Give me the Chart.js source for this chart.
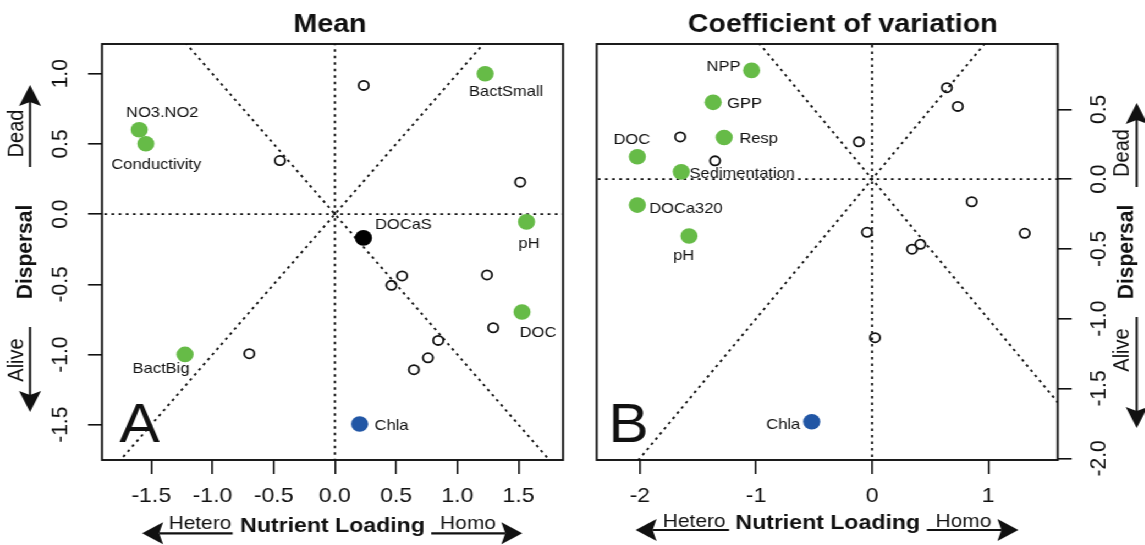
<!DOCTYPE html>
<html>
<head>
<meta charset="utf-8">
<title>Mean and coefficient of variation: nutrient loading vs dispersal</title>
<script src="https://cdn.jsdelivr.net/npm/chart.js@4.4.1/dist/chart.umd.min.js"></script>
<style>
  html, body { margin: 0; padding: 0; background: #fff; overflow: hidden; }
  #stage { position: absolute; left: 0; top: 0; width: 1041px; height: 545px;
           transform: scaleX(1.1); transform-origin: 0 0; }
  #stage canvas { position: absolute; top: 0; }
</style>
</head>
<body>
<div id="stage">
  <canvas id="meanChart" width="527" height="545" style="left:0px"></canvas>
  <canvas id="cvChart" width="514" height="545" style="left:527.2727px"></canvas>
</div>
<script>
// ---------- Mean panel ----------
const meanGreenNames = ["BactSmall", "NO3.NO2", "Conductivity", "pH", "DOC", "BactBig"];
const meanGreenX = [1.227, -1.598, -1.544, 1.565, 1.528, -1.224];
const meanGreenY = [1.000, 0.601, 0.501, -0.055, -0.697, -0.999];
const meanBlackNames = ["DOCaS"];
const meanBlackX = [0.233];
const meanBlackY = [-0.169];
const meanBlueNames = ["Chla"];
const meanBlueX = [0.202];
const meanBlueY = [-1.495];
const meanOpenX = [0.235, -0.449, 1.513, 0.549, 1.242, 0.462, 1.293, 0.844, 0.760, 0.645, -0.699];
const meanOpenY = [0.917, 0.382, 0.228, -0.440, -0.433, -0.507, -0.809, -0.899, -1.023, -1.108, -0.994];

// ---------- Coefficient of variation panel ----------
const cvGreenNames = ["NPP", "GPP", "Resp", "DOC", "Sedimentation", "DOCa320", "pH"];
const cvGreenX = [-1.038, -1.369, -1.274, -2.022, -1.644, -2.022, -1.577];
const cvGreenY = [0.779, 0.550, 0.298, 0.160, 0.052, -0.186, -0.407];
const cvBlueNames = ["Chla"];
const cvBlueX = [-0.520];
const cvBlueY = [-1.738];
const cvOpenX = [-1.653, -1.353, -0.114, 0.644, 0.738, 0.858, -0.044, 0.416, 0.344, 1.315, 0.025];
const cvOpenY = [0.302, 0.131, 0.267, 0.655, 0.521, -0.162, -0.381, -0.467, -0.502, -0.388, -1.136];

// ---------- axes ----------
const meanXTicks = [-1.5, -1.0, -0.5, 0, 0.5, 1.0, 1.5];
const meanXTickLabels = ["-1.5", "-1.0", "-0.5", "0.0", "0.5", "1.0", "1.5"];
const meanYTicks = [-1.5, -1.0, -0.5, 0, 0.5, 1.0];
const meanYTickLabels = ["-1.5", "-1.0", "-0.5", "0.0", "0.5", "1.0"];
const cvXTicks = [-2, -1, 0, 1];
const cvXTickLabels = ["-2", "-1", "0", "1"];
const cvYTicks = [-2.0, -1.5, -1.0, -0.5, 0, 0.5];
const cvYTickLabels = ["-2.0", "-1.5", "-1.0", "-0.5", "0.0", "0.5"];

const meanXRange = [-1.902, 1.863];
const meanYRange = [-1.751, 1.212];
const cvXRange = [-2.372, 1.599];
const cvYRange = [-2.012, 0.968];

// dotted guides through the origin (Infinity = vertical)
const guideSlopes = [0, Infinity, 1, -1];

// ---------- styling ----------
const SX = 1.1;                 // horizontal stretch applied to the stage
const FONT = '"Liberation Sans", Arial, Helvetica, sans-serif';
const INK = '#111';
const GREEN = '#66BB47';
const BLUE = '#2156A5';

// label placement: pixel offset of the label centre from its point
const meanLabelOffsets = {
  "BactSmall": [21, 18], "NO3.NO2": [23, -17], "Conductivity": [10.5, 21], "pH": [2.5, 22],
  "DOC": [16, 21], "BactBig": [-24, 14], "DOCaS": [40, -13], "Chla": [32, 1.5]
};
const cvLabelOffsets = {
  "NPP": [-28, -3.5], "GPP": [31.5, 1.3], "Resp": [34.5, 1.5], "DOC": [-5.5, -16.7],
  "Sedimentation": [61, 1.6], "DOCa320": [48.5, 3.7], "pH": [-5.3, 19.8], "Chla": [-28.5, 3.6]
};

// margin annotations, positions in page pixels
const decorSpecs = {
  meanChart: {
    offset: 0,
    title: { text: "Mean", x: 330, y: 32 },
    yTitle: { text: "Dispersal", x: 25.5, y: 252 },
    dead: { text: "Dead", x: 17.5, y: 133.5, arrow: [30, 167, 30, 85] },
    alive: { text: "Alive", x: 17.5, y: 360, arrow: [30, 327, 30, 412] },
    xTitle: { text: "Nutrient Loading", x: 332.5, y: 532 },
    hetero: { text: "Hetero", x: 200, y: 529, arrow: [232.6, 533.3, 142.1, 533.3] },
    homo: { text: "Homo", x: 468, y: 529, arrow: [431.2, 533.3, 522.3, 533.3] },
    letter: { text: "A", x: 119.3, y: 441.7 },
    labelOffsets: meanLabelOffsets
  },
  cvChart: {
    offset: 580,
    title: { text: "Coefficient of variation", x: 843, y: 32 },
    yTitle: { text: "Dispersal", x: 1127, y: 252 },
    dead: { text: "Dead", x: 1122.5, y: 153, arrow: [1137, 187, 1137, 103] },
    alive: { text: "Alive", x: 1122.5, y: 350, arrow: [1137, 317, 1137, 428] },
    xTitle: { text: "Nutrient Loading", x: 828, y: 529 },
    hetero: { text: "Hetero", x: 694.5, y: 527, arrow: [729.3, 530, 635.9, 530] },
    homo: { text: "Homo", x: 963.8, y: 527, arrow: [927.1, 530, 1018.7, 530] },
    letter: { text: "B", x: 608.5, y: 441.7 },
    labelOffsets: cvLabelOffsets
  }
};

function toPoints(xs, ys) { return xs.map((v, i) => ({ x: v, y: ys[i] })); }

function drawText(ctx, str, x, y, font, align, baseline, rot) {
  ctx.save();
  ctx.translate(x, y);
  if (rot) ctx.rotate(rot);
  ctx.font = font;
  ctx.fillStyle = INK;
  ctx.textAlign = align;
  ctx.textBaseline = baseline;
  ctx.fillText(str, 0, 0);
  ctx.restore();
}

// arrow drawn in page pixels, head at the second point
function drawArrow(ctx, spec, a) {
  const [x1, y1, x2, y2] = a;
  ctx.save();
  ctx.scale(1 / SX, 1);
  ctx.translate(-spec.offset, 0);
  const len = Math.hypot(x2 - x1, y2 - y1);
  const ux = (x2 - x1) / len, uy = (y2 - y1) / len, nx = -uy, ny = ux;
  const L = 21, W = 11, notch = 4;
  const bx = x2 - ux * L, by = y2 - uy * L;
  const mx = x2 - ux * (L - notch), my = y2 - uy * (L - notch);
  ctx.strokeStyle = INK;
  ctx.lineWidth = 2.2;
  ctx.beginPath(); ctx.moveTo(x1, y1); ctx.lineTo(mx, my); ctx.stroke();
  ctx.fillStyle = INK;
  ctx.beginPath();
  ctx.moveTo(x2, y2);
  ctx.lineTo(bx + nx * W, by + ny * W);
  ctx.lineTo(mx, my);
  ctx.lineTo(bx - nx * W, by - ny * W);
  ctx.closePath();
  ctx.fill();
  ctx.restore();
}

const decorPlugin = {
  id: 'decor',
  afterDatasetsDraw(chart) {
    const spec = decorSpecs[chart.canvas.id];
    const ctx = chart.ctx;
    chart.data.datasets.forEach((ds, di) => {
      if (!ds.names) return;
      const meta = chart.getDatasetMeta(di);
      meta.data.forEach((pt, i) => {
        const name = ds.names[i];
        const off = spec.labelOffsets[name] || [0, 0];
        drawText(ctx, name, pt.x + off[0] / SX, pt.y + off[1], '15px ' + FONT, 'center', 'middle');
      });
    });
  },
  afterDraw(chart) {
    const spec = decorSpecs[chart.canvas.id];
    const ctx = chart.ctx;
    const a = chart.chartArea;
    const cx = (xp) => (xp - spec.offset) / SX;
    // plot frame
    ctx.save();
    ctx.strokeStyle = INK;
    ctx.lineWidth = 1.9;
    ctx.strokeRect(a.left, a.top, a.right - a.left, a.bottom - a.top);
    ctx.restore();
    const up = -Math.PI / 2;
    drawText(ctx, spec.title.text, cx(spec.title.x), spec.title.y, 'bold 26px ' + FONT, 'center', 'alphabetic');
    drawText(ctx, spec.yTitle.text, cx(spec.yTitle.x), spec.yTitle.y, 'bold 21px ' + FONT, 'center', 'middle', up);
    drawText(ctx, spec.dead.text, cx(spec.dead.x), spec.dead.y, '20px ' + FONT, 'center', 'middle', up);
    drawText(ctx, spec.alive.text, cx(spec.alive.x), spec.alive.y, '20px ' + FONT, 'center', 'middle', up);
    drawArrow(ctx, spec, spec.dead.arrow);
    drawArrow(ctx, spec, spec.alive.arrow);
    drawText(ctx, spec.xTitle.text, cx(spec.xTitle.x), spec.xTitle.y, 'bold 21px ' + FONT, 'center', 'alphabetic');
    drawText(ctx, spec.hetero.text, cx(spec.hetero.x), spec.hetero.y, '19px ' + FONT, 'center', 'alphabetic');
    drawText(ctx, spec.homo.text, cx(spec.homo.x), spec.homo.y, '19px ' + FONT, 'center', 'alphabetic');
    drawArrow(ctx, spec, spec.hetero.arrow);
    drawArrow(ctx, spec, spec.homo.arrow);
    drawText(ctx, spec.letter.text, cx(spec.letter.x), spec.letter.y, '55px ' + FONT, 'left', 'alphabetic');
  }
};

function guideDatasets() {
  return guideSlopes.map(s => ({
    data: s === Infinity ? [{ x: 0, y: -10 }, { x: 0, y: 10 }] : [{ x: -10, y: -10 * s }, { x: 10, y: 10 * s }],
    showLine: true,
    borderColor: INK,
    borderWidth: 1.9,
    borderDash: [2.5, 4],
    pointRadius: 0,
    clip: 0,
    order: 2
  }));
}

function filledSet(xs, ys, names, color) {
  return { data: toPoints(xs, ys), names: names, pointRadius: 7.8, pointBorderWidth: 0,
           pointBackgroundColor: color, pointBorderColor: color, order: 1 };
}
function openSet(xs, ys) {
  return { data: toPoints(xs, ys), pointRadius: 4.6, pointBorderWidth: 1.8,
           pointBackgroundColor: 'rgba(0,0,0,0)', pointBorderColor: INK, order: 1 };
}

function axis(pos, range, ticks, labels, isY, fitSize, tickLen, pad) {
  return {
    type: 'linear',
    position: pos,
    min: range[0],
    max: range[1],
    afterBuildTicks: (s) => { s.ticks = ticks.map(v => ({ value: v })); },
    afterFit: (s) => { if (isY) s.width = fitSize; else s.height = fitSize; },
    ticks: {
      callback: (v, i) => labels[i],
      font: { family: FONT, size: 21 },
      color: INK,
      padding: pad,
      autoSkip: false,
      minRotation: isY ? 90 : 0,
      maxRotation: isY ? 90 : 0,
      crossAlign: isY ? 'center' : 'near'
    },
    grid: { drawOnChartArea: false, drawTicks: true, tickLength: tickLen, color: INK, lineWidth: 1.6 },
    border: { display: false }
  };
}

function makeChart(id, datasets, xr, xt, xl, yr, yt, yl, yPos, padding) {
  return new Chart(document.getElementById(id), {
    type: 'scatter',
    data: { datasets: datasets.concat(guideDatasets()) },
    options: {
      responsive: false,
      animation: false,
      devicePixelRatio: 1,
      events: [],
      layout: { padding: padding },
      plugins: { legend: { display: false }, tooltip: { enabled: false } },
      scales: {
        x: axis('bottom', xr, xt, xl, false, 50, 14, 10),
        y: axis(yPos, yr, yt, yl, true, 55, 12.7, 7)
      }
    },
    plugins: [decorPlugin]
  });
}

makeChart('meanChart', [
    filledSet(meanGreenX, meanGreenY, meanGreenNames, GREEN),
    filledSet(meanBlackX, meanBlackY, meanBlackNames, '#000'),
    filledSet(meanBlueX, meanBlueY, meanBlueNames, BLUE),
    openSet(meanOpenX, meanOpenY)
  ], meanXRange, meanXTicks, meanXTickLabels, meanYRange, meanYTicks, meanYTickLabels, 'left',
  { left: 102 / SX - 55, right: 527 - 563 / SX, top: 44, bottom: 35 });

makeChart('cvChart', [
    filledSet(cvGreenX, cvGreenY, cvGreenNames, GREEN),
    filledSet(cvBlueX, cvBlueY, cvBlueNames, BLUE),
    openSet(cvOpenX, cvOpenY)
  ], cvXRange, cvXTicks, cvXTickLabels, cvYRange, cvYTicks, cvYTickLabels, 'right',
  { left: (597 - 580) / SX, right: 514 - (1058 - 580) / SX - 55, top: 44, bottom: 35 });
</script>
</body>
</html>
